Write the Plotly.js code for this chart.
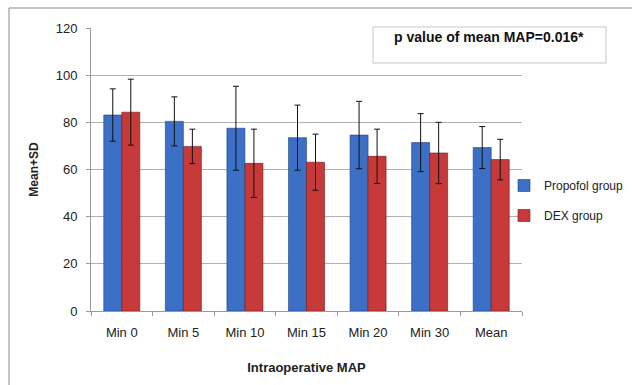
<!DOCTYPE html>
<html><head><meta charset="utf-8">
<script src="https://cdn.plot.ly/plotly-3.0.1.min.js"></script>
<style>body{margin:0;background:#fff}#c{width:632px;height:385px}</style>
</head><body><div id="c"></div>
<script>
const categories = ["Min 0","Min 5","Min 10","Min 15","Min 20","Min 30","Mean"];
const propofolMean = [83.1, 80.4, 77.5, 73.5, 74.6, 71.4, 69.3];
const propofolSD   = [11.1, 10.4, 17.8, 13.8, 14.3, 12.3, 8.9];
const dexMean = [84.3, 69.8, 62.6, 63.1, 65.6, 67.0, 64.2];
const dexSD   = [14.0, 7.3, 14.5, 11.9, 11.5, 13.0, 8.6];

const L=91, R=522, T=28, B=311;
const pw=R-L, ph=B-T;
const px = v => (v-L)/pw;
const py = v => (B-v)/ph;

const traces = [
 {type:'bar', name:'Propofol group', x:categories, y:propofolMean, legendgroup:'a',
  marker:{color:'#3b70c6', line:{color:'#1f3f78', width:0.6}},
  error_y:{type:'data', array:propofolSD, visible:true, color:'#111', thickness:1, width:3}},
 {type:'bar', name:'DEX group', x:categories, y:dexMean, legendgroup:'b',
  marker:{color:'#c8393a', line:{color:'#6e1a1a', width:0.6}},
  error_y:{type:'data', array:dexSD, visible:true, color:'#111', thickness:1, width:3}}
];

const layout = {
 width:632, height:385,
 margin:{l:L, r:632-R, t:T, b:385-B, autoexpand:false},
 paper_bgcolor:'#fff', plot_bgcolor:'#fff',
 barmode:'group', bargap:0.415, bargroupgap:0,
 font:{family:'Liberation Sans, Arial, sans-serif', size:12, color:'#222'},
 xaxis:{showline:true, linecolor:'#999', ticks:'outside', tickson:'boundaries', ticklen:4, tickcolor:'#999',
        ticklabelstandoff:9, tickfont:{size:13}, title:{text:'<b>Intraoperative MAP</b>', font:{size:13}, standoff:24}},
 yaxis:{range:[0,120], dtick:20, showline:true, linecolor:'#999', ticks:'outside', ticklen:4, tickcolor:'#999',
        ticklabelstandoff:6, gridcolor:'#b0b0b0', gridwidth:1, zeroline:false, tickfont:{size:13},
        title:{text:'<b>Mean+SD</b>', font:{size:12}, standoff:14}},
 showlegend:true,
 legend:{x:px(504), y:py(171), xanchor:'left', yanchor:'top', traceorder:'grouped', tracegroupgap:11,
         itemwidth:30, font:{size:12}, bgcolor:'rgba(0,0,0,0)'},
 shapes:[
  {type:'line', xref:'paper', yref:'paper', x0:px(9), x1:px(9), y0:py(8), y1:py(390), line:{color:'#888', width:1}},
  {type:'line', xref:'paper', yref:'paper', x0:px(9), x1:px(640), y0:py(8), y1:py(8), line:{color:'#888', width:1}},
  {type:'rect', xref:'paper', yref:'paper', x0:px(373), x1:px(606), y0:py(63), y1:py(27), line:{color:'#c8c8c8', width:1}}
 ],
 annotations:[
  {xref:'paper', yref:'paper', x:px(489), y:py(37), text:'<b>p value of mean MAP=0.016*</b>', showarrow:false,
   font:{size:14, color:'#111'}, xanchor:'center', yanchor:'middle'}
 ]
};
Plotly.newPlot('c', traces, layout, {displayModeBar:false, staticPlot:true});
</script></body></html>
